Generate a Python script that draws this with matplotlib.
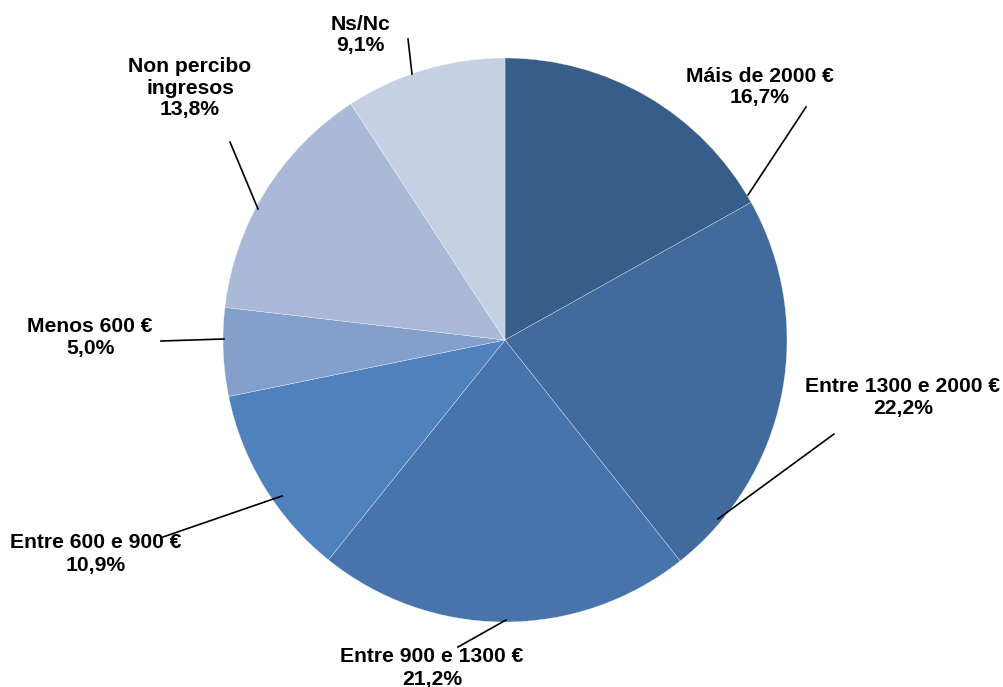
import matplotlib
matplotlib.use("Agg")
import matplotlib.pyplot as plt

# datos
etiquetas = ["Máis de 2000 €", "Entre 1300 e 2000 €", "Entre 900 e 1300 €",
             "Entre 600 e 900 €", "Menos 600 €", "Non percibo\ningresos", "Ns/Nc"]
valores = [16.7, 22.2, 21.2, 10.9, 5.0, 13.8, 9.1]
cores = ["#375D8A", "#416A9D", "#4874AC", "#4F81BD", "#849FCB", "#AAB9D7", "#C5D0E3"]

# posicións das etiquetas e liñas guía (en píxeles da imaxe)
pos_texto = [(760, 87), (903, 398), (432, 668), (96, 554), (90, 338), (190, 88), (360, 35)]
guias = [((748, 195), (806, 107)),
         ((718, 519), (834, 434)),
         ((506, 620), (458, 647)),
         ((282, 496), (163, 537)),
         ((224, 339), (161, 341)),
         ((258, 209), (230, 142)),
         ((412, 74), (408, 39))]

W, H = 1004, 687
CX, CY, R = 505, 340, 282


def px(x, y):
    return (x - CX) / R, (CY - y) / R


plt.rcParams['font.family'] = ['Liberation Sans', 'DejaVu Sans']

fig = plt.figure(figsize=(W / 100, H / 100), dpi=100)
ax = fig.add_axes([0, 0, 1, 1])
ax.pie(valores, colors=cores, startangle=90, counterclock=False, radius=1,
       wedgeprops=dict(edgecolor="white", linewidth=0.2))
ax.set_xlim(-CX / R, (W - CX) / R)
ax.set_ylim(-(H - CY) / R, CY / R)
ax.set_aspect("equal")
ax.axis("off")

for lab, v, (tx, ty), (p0, p1) in zip(etiquetas, valores, pos_texto, guias):
    txt = f"{lab}\n{v:.1f}%".replace(".", ",")
    ax.text(*px(tx, ty), txt, ha="center", va="center", fontsize=15.2,
            fontweight="bold", linespacing=1.2, color="black")
    x0, y0 = px(*p0)
    x1, y1 = px(*p1)
    ax.plot([x0, x1], [y0, y1], color="black", linewidth=1.2)

fig.savefig("out.png", dpi=100, facecolor="white")
